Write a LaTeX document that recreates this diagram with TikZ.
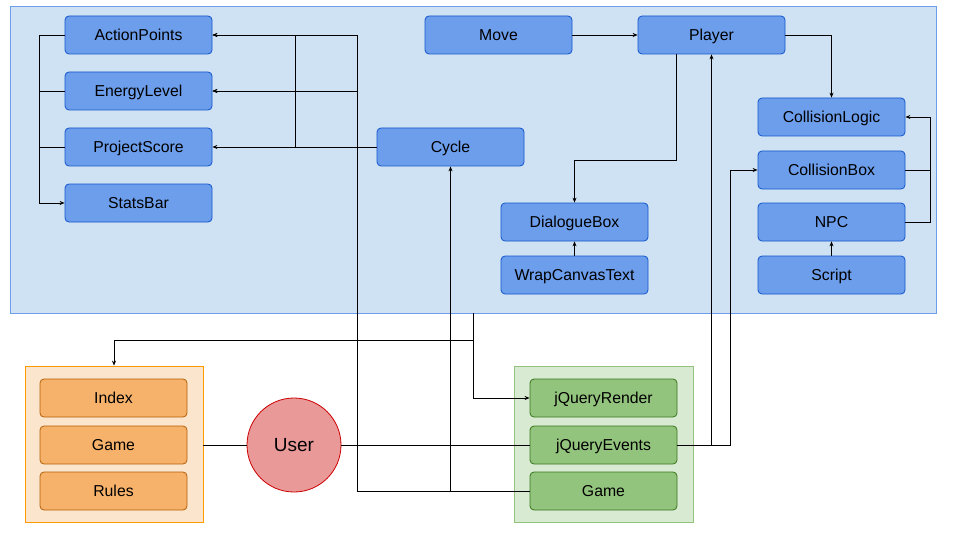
\documentclass[tikz,border=0pt]{standalone}
\usepackage{fontspec}
\setmainfont{Liberation Sans}
\usetikzlibrary{arrows.meta,calc}
\definecolor{bluecont}{HTML}{CFE2F3}
\definecolor{bluecontb}{HTML}{6D9EEB}
\definecolor{bluenode}{HTML}{6D9EEB}
\definecolor{bluenodeb}{HTML}{1155CC}
\definecolor{orcont}{HTML}{FCE5CD}
\definecolor{orcontb}{HTML}{FF9900}
\definecolor{ornode}{HTML}{F6B26B}
\definecolor{ornodeb}{HTML}{B45F06}
\definecolor{grcont}{HTML}{D9EAD3}
\definecolor{grcontb}{HTML}{93C47D}
\definecolor{grnode}{HTML}{93C47D}
\definecolor{grnodeb}{HTML}{38761D}
\definecolor{userfill}{HTML}{EA9999}
\definecolor{userb}{HTML}{CC0000}
\tikzset{
  box/.style={draw, rounded corners=4pt, minimum width=147pt, minimum height=38pt,
    inner sep=0pt, line width=0.8pt, font=\fontsize{15.8}{18}\selectfont,
    text height=11.4pt, text depth=0pt},
  bluebox/.style={box, fill=bluenode, draw=bluenodeb},
  orbox/.style={box, fill=ornode, draw=ornodeb},
  grbox/.style={box, fill=grnode, draw=grnodeb},
  cont/.style={line width=0.8pt, inner sep=0pt},
  conn/.style={line width=0.8pt, black},
  arr/.style={conn, -{Stealth[length=5pt,width=4pt]}},
}
\begin{document}
\begin{tikzpicture}[x=1pt,y=-1pt]
\useasboundingbox (0,0) rectangle (960,540);
% containers
\node[cont, draw=bluecontb, fill=bluecont, minimum width=926pt, minimum height=307pt] (blue) at (473,159.5) {};
\node[cont, draw=orcontb, fill=orcont, minimum width=178pt, minimum height=156pt] (orange) at (114,444) {};
\node[cont, draw=grcontb, fill=grcont, minimum width=179pt, minimum height=156pt] (green) at (603.5,444) {};
% blue nodes
\node[bluebox] (ActionPoints) at (138.5,35) {ActionPoints};
\node[bluebox] (EnergyLevel) at (138.5,91) {EnergyLevel};
\node[bluebox] (ProjectScore) at (138.5,147) {ProjectScore};
\node[bluebox] (StatsBar) at (138.5,203) {StatsBar};
\node[bluebox] (Move) at (498.5,35) {Move};
\node[bluebox] (Player) at (711.5,35) {Player};
\node[bluebox] (Cycle) at (450.5,147) {Cycle};
\node[bluebox] (DialogueBox) at (574.5,222) {DialogueBox};
\node[bluebox] (WrapCanvasText) at (574.5,275) {WrapCanvasText};
\node[bluebox] (CollisionLogic) at (831.5,117) {CollisionLogic};
\node[bluebox] (CollisionBox) at (831.5,170) {CollisionBox};
\node[bluebox] (NPC) at (831.5,222) {NPC};
\node[bluebox] (Script) at (831.5,275) {Script};
% orange nodes
\node[orbox] (Index) at (113.5,398) {Index};
\node[orbox] (oGame) at (113.5,445) {Game};
\node[orbox] (Rules) at (113.5,491) {Rules};
% user
\node[circle, draw=userb, fill=userfill, line width=0.8pt, minimum size=94pt, inner sep=0pt,
  font=\fontsize{19}{22}\selectfont, text height=13.6pt, text depth=0pt] (User) at (294,445) {User};
% green nodes
\node[grbox] (jQueryRender) at (603.5,398) {jQueryRender};
\node[grbox] (jQueryEvents) at (603.5,445) {jQueryEvents};
\node[grbox] (gGame) at (603.5,491) {Game};
% helper coordinates
\coordinate (c1) at (295,147);
\coordinate (b2) at (357,491);
\coordinate (pd) at (676,160);
\coordinate (je) at (730,445);
% left bus to StatsBar
\draw[arr] (ActionPoints.west) -- ++(-25,0) |- (StatsBar.west);
\draw[conn] (EnergyLevel.west) -- ++(-25,0);
\draw[conn] (ProjectScore.west) -- ++(-25,0);
% Cycle to stats
\draw[arr] (Cycle.west) -- (ProjectScore.east);
\draw[arr] (c1) |- (ActionPoints.east);
\draw[arr] (c1 |- EnergyLevel.east) -- (EnergyLevel.east);
% Game (green) to Cycle and stats
\draw[arr] (gGame.west) -| (Cycle.south);
\draw[arr] (b2) |- (ActionPoints.east);
\draw[conn] (gGame.west) -- (b2);
\draw[arr] (b2 |- EnergyLevel.east) -- (EnergyLevel.east);
% Move -> Player -> CollisionLogic
\draw[arr] (Move.east) -- (Player.west);
\draw[arr] (Player.east) -| (CollisionLogic.north);
% Player -> DialogueBox
\draw[arr] ([xshift=-35.5pt]Player.south) -- (pd) -| (DialogueBox.north);
\draw[arr] (WrapCanvasText.north) -- (DialogueBox.south);
\draw[arr] (Script.north) -- (NPC.south);
% CollisionBox / NPC -> CollisionLogic
\draw[arr] (CollisionBox.east) -- ++(25,0) |- (CollisionLogic.east);
\draw[conn] (NPC.east) -- ++(25,0) -- ([xshift=25pt]CollisionBox.east);
% jQueryEvents -> Player, CollisionBox
\draw[arr] (jQueryEvents.east) -| (Player.south);
\draw[arr] (jQueryEvents.east) -- (je) |- (CollisionBox.west);
% User links
\draw[conn] (orange.east |- User.west) -- (User.west);
\draw[conn] (User.east) -- (jQueryEvents.west);
% blue container -> jQueryRender, orange
\draw[arr] (blue.south) |- (jQueryRender.west);
\draw[arr] ([yshift=-27pt]blue.south) -| (orange.north);
\end{tikzpicture}
\end{document}
